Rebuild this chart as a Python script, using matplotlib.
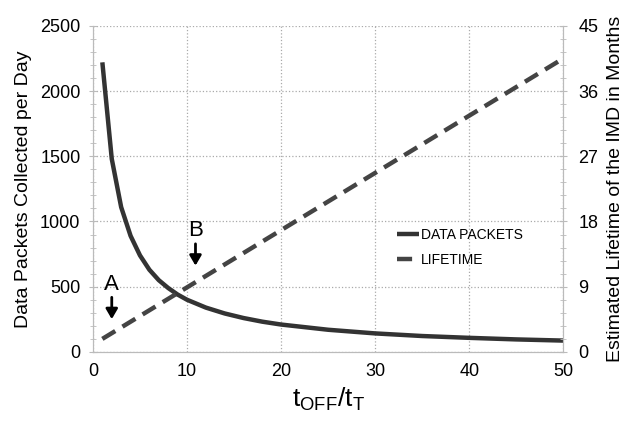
import numpy as np
import matplotlib
matplotlib.use("Agg")
import matplotlib.pyplot as plt
from matplotlib.ticker import MultipleLocator

plt.rcParams['font.family'] = ['Liberation Sans', 'DejaVu Sans']

# 读图得到的数据
ratio = [1, 2, 3, 4, 5, 6, 7, 8, 9, 10, 12, 14, 16, 18, 20, 25, 30, 35, 40, 45, 50]
packets = [2220, 1480, 1110, 890, 740, 630, 550, 490, 440, 400, 340, 295,
           260, 232, 210, 170, 142, 122, 108, 96, 87]
life_x = [1, 50]
life_months = [1.8, 40.5]

fig = plt.figure(figsize=(6.28, 4.23), dpi=100)
ax = fig.add_axes([0.148, 0.168, 0.749, 0.771])
ax2 = ax.twinx()

ax.plot(ratio, packets, color='#333333', lw=3.2, label='DATA PACKETS', solid_capstyle='butt')
ax2.plot(life_x, life_months, color='#444444', lw=3.2, ls=(0, (3.4, 1.9)), label='LIFETIME')

ax.set_xlim(0, 50)
ax.set_ylim(0, 2500)
ax2.set_ylim(0, 45)
ax.set_xticks(np.arange(0, 51, 10))
ax.set_yticks(np.arange(0, 2501, 500))
ax.yaxis.set_minor_locator(MultipleLocator(100))
ax2.set_yticks(np.arange(0, 46, 9))
ax2.yaxis.set_minor_locator(MultipleLocator(1.8))
ax.grid(True, color='#aaaaaa', ls=':', lw=0.9)

for a in (ax, ax2):
    for s in a.spines.values():
        s.set_color('#bbbbbb')
    a.spines['top'].set_visible(False)
    a.tick_params(which='both', color='#bbbbbb', direction='inout', labelsize=13)
    a.tick_params(which='major', length=6)
    a.tick_params(which='minor', length=4)
ax.tick_params(axis='y', pad=6)
ax2.tick_params(axis='y', pad=8)
ax.tick_params(axis='x', length=0, pad=8)

ax.set_xlabel(r'$\mathregular{t_{OFF}/t_T}$', fontsize=19)
ax.set_ylabel('Data Packets Collected per Day', fontsize=14, labelpad=6)
ax2.set_ylabel('Estimated Lifetime of the IMD in Months', fontsize=14, labelpad=6)

# 箭头 A, B
ax.annotate('', xy=(2, 230), xytext=(2, 440),
            arrowprops=dict(arrowstyle='-|>,head_width=0.35,head_length=0.6', color='black', lw=2))
ax.text(2, 520, 'A', ha='center', va='center', fontsize=16)
ax.annotate('', xy=(10.9, 640), xytext=(10.9, 850),
            arrowprops=dict(arrowstyle='-|>,head_width=0.35,head_length=0.6', color='black', lw=2))
ax.text(10.9, 930, 'B', ha='center', va='center', fontsize=16)

h1, l1 = ax.get_legend_handles_labels()
h2, l2 = ax2.get_legend_handles_labels()
ax.legend(h1 + h2, l1 + l2, loc='center left', bbox_to_anchor=(0.62, 0.32),
          frameon=False, fontsize=10, handlelength=1.6, handletextpad=0.1,
          labelspacing=0.8)

plt.savefig('out.png', dpi=100)
